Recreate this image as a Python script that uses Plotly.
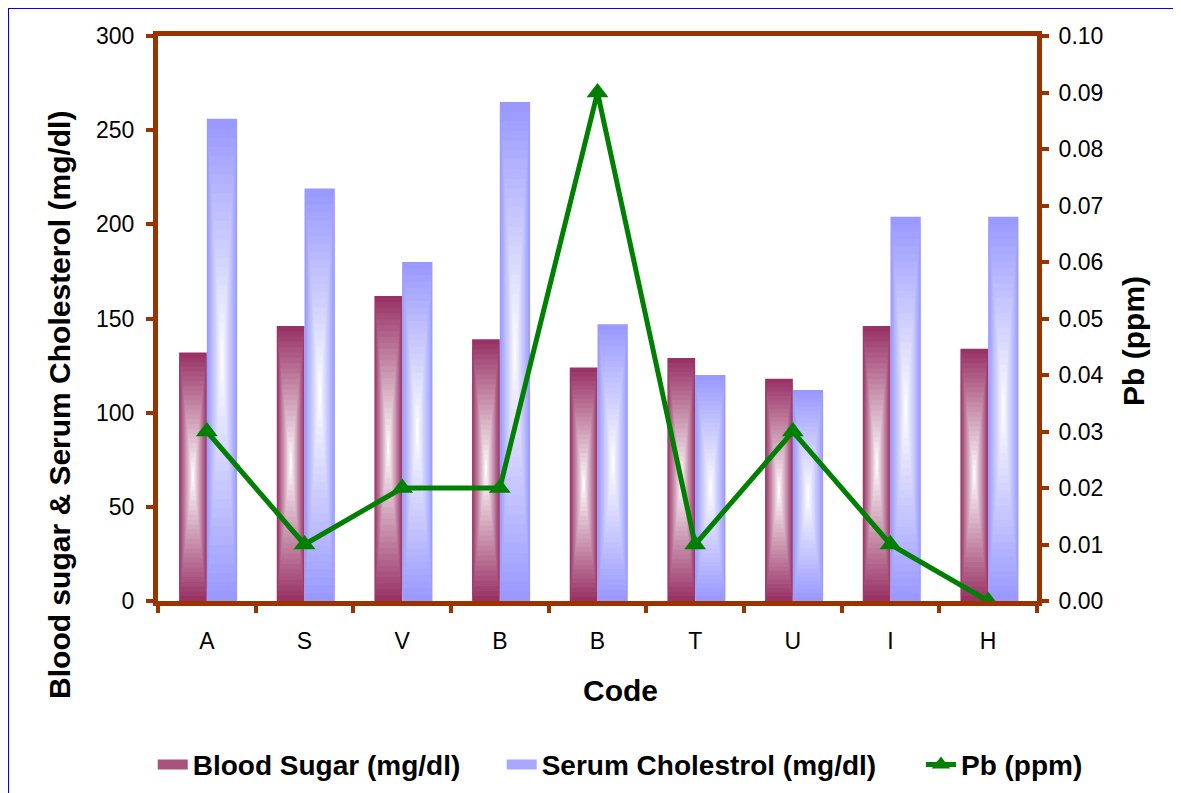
import plotly.graph_objects as go

# ---- data ----
codes = ["A", "S", "V", "B", "B", "T", "U", "I", "H"]
blood_sugar = [132, 146, 162, 139, 124, 129, 118, 146, 134]
serum_chol = [256, 219, 180, 265, 147, 120, 112, 204, 204]
pb_ppm = [0.03, 0.01, 0.02, 0.02, 0.09, 0.01, 0.03, 0.01, 0.00]

left_ticks = [0, 50, 100, 150, 200, 250, 300]
right_ticks = [0.00, 0.01, 0.02, 0.03, 0.04, 0.05, 0.06, 0.07, 0.08, 0.09, 0.10]

# ---- style ----
FONT = "Arial, Liberation Sans, sans-serif"
BROWN = "#993300"
SUGAR = "#993366"
SERUM = "#9999ff"
GREEN = "#008000"

x = list(range(len(codes)))


def blend(hex_color, t):
    h = hex_color.lstrip("#")
    r, g, b = int(h[0:2], 16), int(h[2:4], 16), int(h[4:6], 16)
    r = round(r + (255 - r) * t)
    g = round(g + (255 - g) * t)
    b = round(b + (255 - b) * t)
    return f"rgb({r},{g},{b})"


fig = go.Figure()

N = 26


def add_gradient_bars(values, name, edge, center, width, legend):
    # nested rectangles -> "from centre" gradient fill
    for k in range(N):
        s = 1 - k / N
        t = k / (N - 1)
        fig.add_trace(go.Bar(
            x=x,
            y=[v * s for v in values],
            base=[v * (1 - s) / 2 for v in values],
            width=width * s,
            offset=center - width * s / 2,
            marker=dict(color=blend(edge, t * 0.97), line=dict(width=0)),
            name=name,
            legendgroup=name,
            showlegend=False,
            hoverinfo="skip" if k else "y+name",
        ))
    # legend swatch
    fig.add_trace(go.Scatter(
        x=[None], y=[None], mode="lines", name=name, legendgroup=name,
        line=dict(color=blend(edge, 0.15), width=16), legend=legend,
    ))


add_gradient_bars(blood_sugar, "Blood Sugar (mg/dl)", SUGAR, -0.142, 0.284, "legend")
add_gradient_bars(serum_chol, "Serum Cholestrol (mg/dl)", SERUM, 0.155, 0.31, "legend2")

fig.add_trace(go.Scatter(
    x=x, y=pb_ppm, yaxis="y2", name="Pb (ppm)",
    mode="lines+markers",
    line=dict(color=GREEN, width=5),
    marker=dict(symbol="triangle-up", size=19, color=GREEN),
    cliponaxis=False, legend="legend3",
))

axis_common = dict(
    showline=True, linecolor=BROWN, linewidth=5,
    showgrid=False, zeroline=False,
    tickfont=dict(family=FONT, size=23, color="black"),
)

legend_common = dict(
    orientation="h", xanchor="left", yanchor="middle", y=-0.29,
    font=dict(family=FONT, size=28, color="black", weight="bold"),
    bgcolor="rgba(0,0,0,0)",
)

fig.update_layout(
    width=1173, height=800,
    margin=dict(l=150, r=144, t=28, b=207),
    paper_bgcolor="white", plot_bgcolor="white",
    barmode="overlay",
    font=dict(family=FONT, color="black"),
    xaxis=dict(
        range=[-0.5, 8.5],
        tickmode="array", tickvals=x, ticktext=codes,
        ticks="", mirror=True,
        ticklabelstandoff=15,
        minor=dict(tick0=0.5, dtick=1, ticks="outside", ticklen=7,
                   tickwidth=4, tickcolor=BROWN, showgrid=False),
        **axis_common,
    ),
    yaxis=dict(
        range=[0, 300],
        tickmode="array", tickvals=left_ticks,
        ticks="outside", ticklen=7, tickwidth=4, tickcolor=BROWN,
        ticklabelstandoff=7,
        **axis_common,
    ),
    yaxis2=dict(
        range=[0, 0.1], overlaying="y", side="right",
        tickmode="array", tickvals=right_ticks, tickformat=".2f",
        ticks="outside", ticklen=7, tickwidth=4, tickcolor=BROWN,
        ticklabelstandoff=5,
        **axis_common,
    ),
    legend=dict(x=-0.006, **legend_common),
    legend2=dict(x=0.391, **legend_common),
    legend3=dict(x=0.868, **legend_common),
    annotations=[
        dict(text="<b>Blood sugar & Serum Cholesterol (mg/dl)</b>",
             xref="paper", yref="paper", x=-0.1115, y=0.347,
             xanchor="center", yanchor="middle", textangle=-90,
             showarrow=False, font=dict(family=FONT, size=30, color="black")),
        dict(text="<b>Pb (ppm)</b>",
             xref="paper", yref="paper", x=1.109, y=0.46,
             xanchor="center", yanchor="middle", textangle=-90,
             showarrow=False, font=dict(family=FONT, size=30, color="black")),
        dict(text="<b>Code</b>",
             xref="paper", yref="paper", x=0.5256, y=-0.159,
             xanchor="center", yanchor="middle",
             showarrow=False, font=dict(family=FONT, size=30, color="black")),
    ],
    shapes=[
        dict(type="rect", xref="paper", yref="paper",
             x0=-0.1706, y0=-0.5, x1=1.3, y1=1.0496,
             line=dict(color="#0000ff", width=2), fillcolor="rgba(0,0,0,0)",
             layer="below"),
    ],
)

fig.write_html("out.html")
